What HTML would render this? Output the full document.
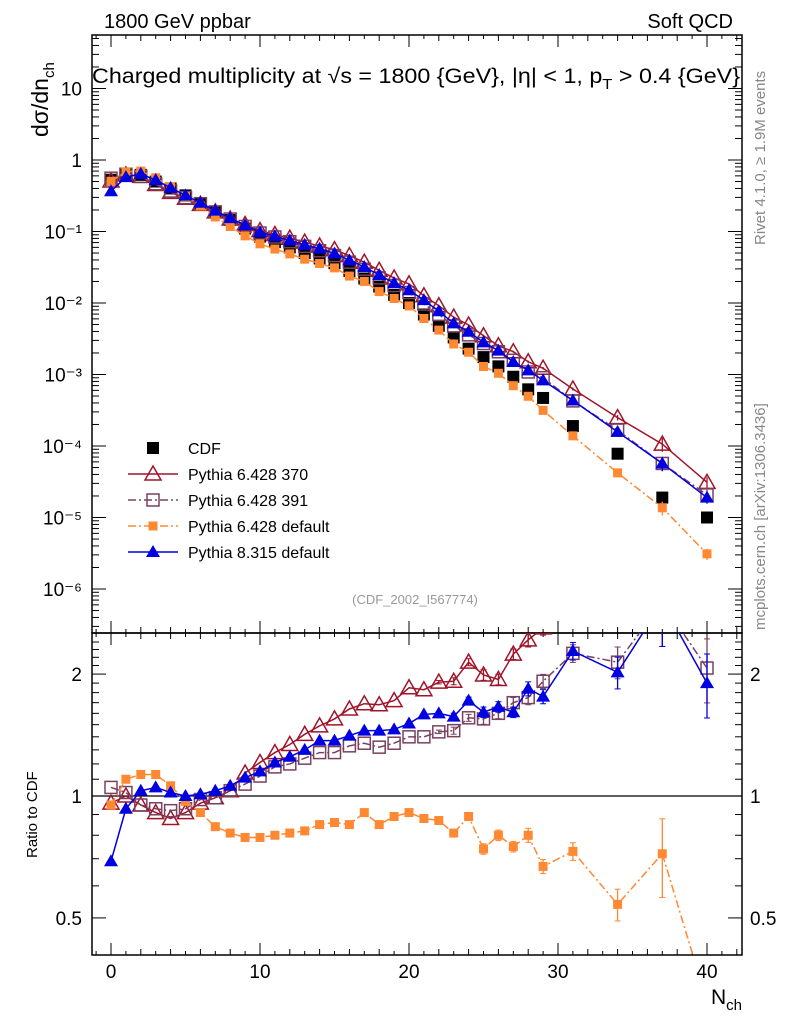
<!DOCTYPE html>
<html><head><meta charset="utf-8"><style>
html,body{margin:0;padding:0;background:#fff;}
svg{display:block;font-family:"Liberation Sans",sans-serif;}
</style></head><body>
<svg id="chart" width="786" height="1024" viewBox="0 0 786 1024" xmlns="http://www.w3.org/2000/svg">
<text x="104" y="28" font-size="20">1800 GeV ppbar</text>
<text x="733" y="28" font-size="20" text-anchor="end">Soft QCD</text>
<text x="92" y="83" font-size="21" textLength="648" lengthAdjust="spacingAndGlyphs">Charged multiplicity at √s = 1800 {GeV}, |η| &lt; 1, p<tspan font-size="15" dy="6">T</tspan><tspan dy="-6"> &gt; 0.4 {GeV}</tspan></text>
<text transform="translate(765,245) rotate(-90)" font-size="15" fill="#888">Rivet 4.1.0, ≥ 1.9M events</text>
<text transform="translate(765,630) rotate(-90)" font-size="15" fill="#888">mcplots.cern.ch [arXiv:1306.3436]</text>
<text x="415" y="604" font-size="13" fill="#999" text-anchor="middle">(CDF_2002_I567774)</text>
<text transform="translate(48,137) rotate(-90)" font-size="23">dσ/dn<tspan font-size="15" dy="6">ch</tspan></text>
<text transform="translate(37,858) rotate(-90)" font-size="15">Ratio to CDF</text>
<text x="742" y="1004" font-size="21" text-anchor="end">N<tspan font-size="15" dy="6">ch</tspan></text>
<g id="plot"></g>
</svg>
<script>
const Ns=[0,1,2,3,4,5,6,7,8,9,10,11,12,13,14,15,16,17,18,19,20,21,22,23,24,25,26,27,28,29,31,34,37,40];
const cdf=[0.53,0.62,0.62,0.50,0.40,0.32,0.25,0.19,0.145,0.11,0.085,0.071,0.06,0.05,0.042,0.036,0.028,0.022,0.017,0.013,0.0100,0.0069,0.0048,0.0033,0.0023,0.00175,0.0013,0.00093,0.00062,0.00047,0.00019,7.8e-5,1.9e-5,1.0e-5];
const r370=[0.96,1.0,0.95,0.91,0.88,0.91,0.96,0.99,1.03,1.14,1.21,1.28,1.34,1.42,1.49,1.55,1.64,1.69,1.68,1.72,1.85,1.83,1.91,1.92,2.14,1.99,1.94,2.24,2.43,2.6,3.3,3.2,5.6,3.1];
const r391=[1.05,1.02,0.95,0.93,0.92,0.93,0.98,0.99,1.03,1.07,1.12,1.18,1.20,1.24,1.28,1.28,1.33,1.35,1.32,1.35,1.40,1.40,1.44,1.45,1.56,1.55,1.60,1.70,1.75,1.92,2.25,2.14,3.0,2.07];
const rdef=[0.95,1.10,1.13,1.13,1.06,0.97,0.91,0.84,0.81,0.79,0.79,0.80,0.81,0.82,0.85,0.86,0.85,0.91,0.85,0.89,0.91,0.88,0.87,0.81,0.89,0.74,0.80,0.75,0.80,0.67,0.73,0.54,0.72,0.31];
const rp8=[0.69,0.93,1.03,1.05,1.02,1.0,1.01,1.03,1.06,1.11,1.15,1.21,1.25,1.30,1.37,1.37,1.41,1.45,1.45,1.46,1.51,1.59,1.60,1.57,1.72,1.61,1.66,1.61,1.84,1.76,2.28,2.02,3.0,1.90];
const relErr=[0,0,0,0,0,0,0,0,0,0,0,0,0,0,0,0,0,0,0,0,0,0,0.01,0.02,0.02,0.03,0.03,0.03,0.04,0.04,0.05,0.09,0.22,0.18];
const yTicksTop=[10,1,0.1,0.01,0.001,1e-4,1e-5,1e-6];
const yTickLabelsTop=["10","1","10⁻¹","10⁻²","10⁻³","10⁻⁴","10⁻⁵","10⁻⁶"];
const rTicks=[0.5,1,2];
const rTickLabels=["0.5","1","2"];
const xTicks=[0,10,20,30,40];

const NS="http://www.w3.org/2000/svg";
const g=document.getElementById('plot');
const L=92,R=742,T=35,M=633,B=955;
const X=n=>111+14.9*n;
const YT=v=>160-71.5*Math.log10(v);
const YR=r=>796-405*Math.log10(r);
function mk(tag,attrs,parent){const e=document.createElementNS(NS,tag);for(const k in attrs)e.setAttribute(k,attrs[k]);(parent||g).appendChild(e);return e;}

const defs=mk('defs',{});
const c1=mk('clipPath',{id:'ctop'},defs);mk('rect',{x:L,y:T,width:R-L,height:M-T},c1);
const c2=mk('clipPath',{id:'cbot'},defs);mk('rect',{x:L,y:M,width:R-L,height:B-M},c2);

let e=mk('rect',{x:L,y:T,width:R-L,height:M-T,fill:'none',stroke:'#000','stroke-width':1.5});

e=mk('rect',{x:L,y:M,width:R-L,height:B-M,fill:'none',stroke:'#000','stroke-width':1.5});


for(let n=-1;n<=42;n++){
  const major=n%10===0;
  const len=major?12:(n%2===0?6:4),x=X(n);
  if(x<L||x>R)continue;
  mk('line',{x1:x,x2:x,y1:B,y2:B-len,stroke:'#000'});
  mk('line',{x1:x,x2:x,y1:M,y2:M+len,stroke:'#000'});
  mk('line',{x1:x,x2:x,y1:M,y2:M-len,stroke:'#000'});
  mk('line',{x1:x,x2:x,y1:T,y2:T+len,stroke:'#000'});
}
xTicks.forEach(n=>{const t=mk('text',{x:X(n),y:978,'font-size':19,'text-anchor':'middle'});t.textContent=n;
});

for(let d=-7;d<=1;d++){for(let k=1;k<10;k++){const v=k*Math.pow(10,d);const y=YT(v);if(y<T||y>M)continue;const len=k===1?14:7;
 mk('line',{x1:L,x2:L+len,y1:y,y2:y,stroke:'#000'});mk('line',{x1:R,x2:R-len,y1:y,y2:y,stroke:'#000'});}}
yTicksTop.forEach((v,i)=>{const t=mk('text',{x:82,y:YT(v)+7,'font-size':19,'text-anchor':'end'});t.textContent=yTickLabelsTop[i];
});

for(let r=0.4;r<=2.5;r+=0.1){const y=YR(r);if(y<M||y>B)continue;const major=Math.abs(r-0.5)<1e-6||Math.abs(r-1)<1e-6||Math.abs(r-2)<1e-6;const len=major?14:7;
 mk('line',{x1:L,x2:L+len,y1:y,y2:y,stroke:'#000'});mk('line',{x1:R,x2:R-len,y1:y,y2:y,stroke:'#000'});}
rTicks.forEach((v,i)=>{let t=mk('text',{x:82,y:YR(v)+7,'font-size':19,'text-anchor':'end'});t.textContent=rTickLabels[i];

t=mk('text',{x:750,y:YR(v)+7,'font-size':19});t.textContent=rTickLabels[i];
});
e=mk('line',{x1:L,x2:R,y1:YR(1),y2:YR(1),stroke:'#000','stroke-width':1.2});


function marker(type,color,x,y,parent){
  if(type==='sq')return mk('rect',{x:x-6,y:y-6,width:12,height:12,fill:color},parent);
  if(type==='osq')return mk('rect',{x:x-6,y:y-6,width:12,height:12,fill:'none',stroke:color,'stroke-width':1.5},parent);
  if(type==='otri')return mk('polygon',{points:`${x},${y-8} ${x-8},${y+6} ${x+8},${y+6}`,fill:'none',stroke:color,'stroke-width':1.5},parent);
  if(type==='tri')return mk('polygon',{points:`${x},${y-7} ${x-7},${y+5} ${x+7},${y+5}`,fill:color},parent);
  if(type==='ssq')return mk('rect',{x:x-4.5,y:y-4.5,width:9,height:9,fill:color},parent);
}
const series=[
 {name:'pythia-6428-370',ratio:r370,color:'#a0142a',dash:'',m:'otri'},
 {name:'pythia-6428-391',ratio:r391,color:'#7a4060',dash:'8,3,2,3',m:'osq'},
 {name:'pythia-6428-default',ratio:rdef,color:'#ff8833',dash:'8,3,2,3',m:'ssq'},
 {name:'pythia-8315-default',ratio:rp8,color:'#0000e0',dash:'',m:'tri'}
];
const gc=mk('g',{'clip-path':'url(#ctop)'});

Ns.forEach((n,i)=>{const r=marker('sq','#000',X(n),YT(cdf[i]),gc);
});

series.forEach(s=>{
  const top=mk('g',{'clip-path':'url(#ctop)'});
  
  const bot=mk('g',{'clip-path':'url(#cbot)'});
  
  const pt=Ns.map((n,i)=>`${X(n)},${YT(cdf[i]*s.ratio[i])}`).join(' ');
  const pb=Ns.map((n,i)=>`${X(n)},${YR(s.ratio[i])}`).join(' ');
  let l=mk('polyline',{points:pt,fill:'none',stroke:s.color,'stroke-width':1.5,'stroke-dasharray':s.dash},top);
  
  l=mk('polyline',{points:pb,fill:'none',stroke:s.color,'stroke-width':1.5,'stroke-dasharray':s.dash},bot);
  
  Ns.forEach((n,i)=>{
    const r=s.ratio[i],er=relErr[i];
    if(er>0){const x=X(n);
      mk('line',{x1:x,x2:x,y1:YR(r*(1+er)),y2:YR(r*(1-er)),stroke:s.color,'stroke-width':1.3},bot);
      mk('line',{x1:x-3,x2:x+3,y1:YR(r*(1+er)),y2:YR(r*(1+er)),stroke:s.color},bot);
      mk('line',{x1:x-3,x2:x+3,y1:YR(r*(1-er)),y2:YR(r*(1-er)),stroke:s.color},bot);
      mk('line',{x1:x,x2:x,y1:YT(cdf[i]*r*(1+er)),y2:YT(cdf[i]*r*(1-er)),stroke:s.color,'stroke-width':1.3},top);
    }
    let m=marker(s.m,s.color,X(n),YT(cdf[i]*r),top);
    
    m=marker(s.m,s.color,X(n),YR(r),bot);
    
  });
});

const lg=mk('g',{});
const legItems=[{label:'CDF',m:'sq',color:'#000',dash:null},
 {label:'Pythia 6.428 370',m:'otri',color:'#a0142a',dash:''},
 {label:'Pythia 6.428 391',m:'osq',color:'#7a4060',dash:'8,3,2,3'},
 {label:'Pythia 6.428 default',m:'ssq',color:'#ff8833',dash:'8,3,2,3'},
 {label:'Pythia 8.315 default',m:'tri',color:'#0000e0',dash:''}];
legItems.forEach((it,i)=>{
  const y=448+i*26;
  const ge=mk('g',{},lg);
  if(it.dash!==null)mk('line',{x1:128,x2:178,y1:y,y2:y,stroke:it.color,'stroke-width':1.5,'stroke-dasharray':it.dash},ge);
  marker(it.m,it.color,153,y,ge);
  const t=mk('text',{x:188,y:y+6,'font-size':16},ge);t.textContent=it.label;
});
</script>
</body></html>
